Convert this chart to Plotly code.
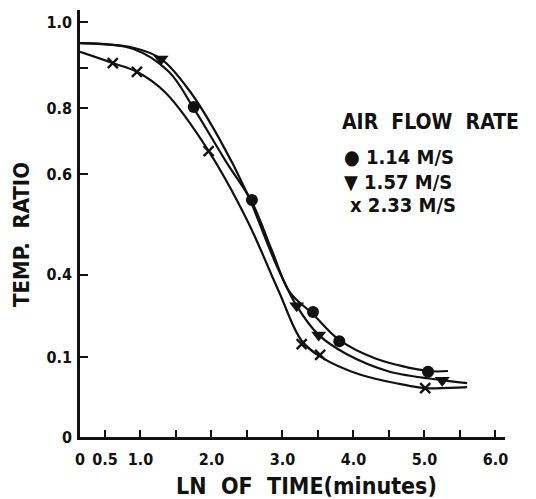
import plotly.graph_objects as go

# ---- data (axis units) ----
circle_x = [1.75, 2.57, 3.43, 3.80, 5.05]
circle_y = [0.795, 0.571, 0.301, 0.231, 0.157]
tri_x = [1.29, 3.20, 3.51, 5.25]
tri_y = [0.911, 0.316, 0.246, 0.137]
cross_x = [0.61, 0.95, 1.96, 3.27, 3.53, 5.01]
cross_y = [0.901, 0.880, 0.689, 0.224, 0.198, 0.118]

# fitted curves as drawn
circ_fit_x = [0.148, 0.9, 1.4, 1.739, 2.2, 2.57, 2.85, 3.1, 3.43, 3.8, 4.3, 5.05, 5.33]
circ_fit_y = [0.949, 0.935, 0.880, 0.795, 0.665, 0.566, 0.450, 0.350, 0.296, 0.234, 0.190, 0.159, 0.159]
tri_fit_x = [0.148, 0.9, 1.29, 1.7, 2.1, 2.5, 2.9, 3.2, 3.51, 3.9, 4.5, 5.25, 5.6]
tri_fit_y = [0.949, 0.938, 0.911, 0.832, 0.722, 0.588, 0.420, 0.316, 0.246, 0.200, 0.158, 0.137, 0.130]
cross_fit_x = [0.148, 0.61, 0.95, 1.35, 1.96, 2.5, 2.95, 3.27, 3.55, 4.1, 4.65, 5.0, 5.6]
cross_fit_y = [0.928, 0.901, 0.880, 0.830, 0.689, 0.523, 0.350, 0.232, 0.192, 0.150, 0.128, 0.118, 0.120]

# tick labels as printed
x_tickvals = [0.148, 0.5, 1.0, 1.5, 2.0, 2.5, 3.0, 3.5, 4.0, 4.5, 5.0, 5.5, 6.0]
x_ticktext = ["0", "0.5", "1.0", "", "2.0", "", "3.0", "", "4.0", "", "5.0", "", "6.0"]
y_tickvals = [0.0, 0.193, 0.391, 0.634, 0.793, 0.889, 1.0]
y_ticktext = ["0", "0.1", "0.4", "0.6", "0.8", "", "1.0"]

legend_title = "AIR  FLOW  RATE"
legend_rows = ["\u25CF 1.14 M/S", "\u25BC 1.57 M/S", "x 2.33 M/S"]

FONT = "DejaVu Sans Condensed, Liberation Sans Narrow, DejaVu Sans, sans-serif"
BLACK = "#111111"

fig = go.Figure()
for fx, fy in [(circ_fit_x, circ_fit_y), (tri_fit_x, tri_fit_y), (cross_fit_x, cross_fit_y)]:
    fig.add_trace(go.Scatter(x=fx, y=fy, mode="lines",
                             line=dict(color=BLACK, width=2.2, shape="spline", smoothing=1.0),
                             showlegend=False, hoverinfo="skip"))

fig.add_trace(go.Scatter(x=circle_x, y=circle_y, mode="markers",
                         marker=dict(symbol="circle", size=12, color=BLACK), showlegend=False))
fig.add_trace(go.Scatter(x=tri_x, y=tri_y, mode="markers",
                         marker=dict(symbol="triangle-down", size=13, color=BLACK), showlegend=False))
fig.add_trace(go.Scatter(x=cross_x, y=cross_y, mode="markers",
                         marker=dict(symbol="x-thin", size=10, color=BLACK, line=dict(color=BLACK, width=2.4)),
                         showlegend=False))

tick_font = dict(family=FONT, size=16, color=BLACK, weight="bold")
fig.update_xaxes(range=[0.148, 6.134], tickmode="array", tickvals=x_tickvals, ticktext=x_ticktext,
                 ticks="inside", ticklen=7, tickwidth=2, tickcolor=BLACK,
                 showline=True, linecolor=BLACK, linewidth=2.5, showgrid=False, zeroline=False,
                 tickfont=tick_font, ticklabelstandoff=6)
fig.update_yaxes(range=[0, 1.029], tickmode="array", tickvals=y_tickvals, ticktext=y_ticktext,
                 ticks="inside", ticklen=8, tickwidth=2, tickcolor=BLACK,
                 showline=True, linecolor=BLACK, linewidth=2.5, showgrid=False, zeroline=False,
                 tickfont=tick_font, ticklabelstandoff=2)


def px(x):
    return (x - 80) / 425


def py(y):
    return (437 - y) / 427


titles = [("TEMP.  RATIO", 22, 235, -90, 22),
          ("LN  OF  TIME(minutes)", 306, 486, 0, 23),
          (legend_title, 430, 122, 0, 21)]
annotations = []
for txt, ax, ay, ang, sz in titles:
    annotations.append(dict(text=txt, x=px(ax), y=py(ay), xref="paper", yref="paper",
                            showarrow=False, xanchor="center", yanchor="middle", textangle=ang,
                            font=dict(family=FONT, size=sz, color=BLACK, weight="bold")))
for txt, lx, ly in zip(legend_rows, [342, 342, 348], [157, 182, 205]):
    annotations.append(dict(text=txt, x=px(lx), y=py(ly), xref="paper", yref="paper", showarrow=False,
                            xanchor="left", yanchor="middle",
                            font=dict(family=FONT, size=20, color=BLACK, weight="bold")))

fig.update_layout(width=536, height=499, margin=dict(l=80, r=31, t=10, b=62),
                  paper_bgcolor="white", plot_bgcolor="white", annotations=annotations)

fig.write_html("out.html")
